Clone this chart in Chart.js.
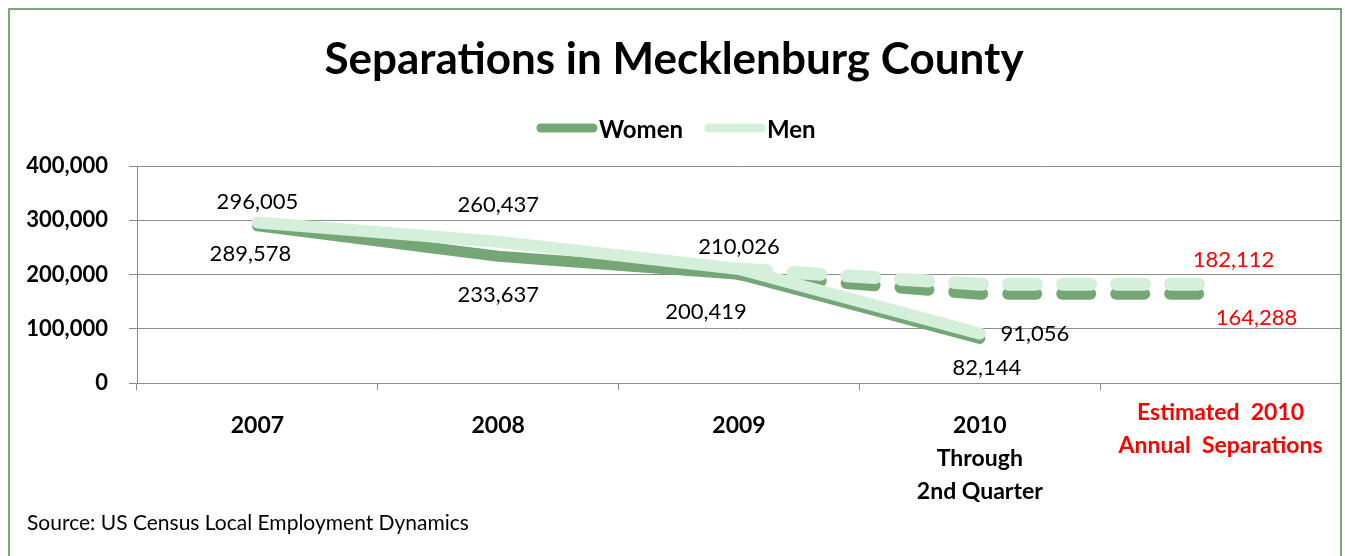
<!DOCTYPE html>
<html>
<head>
<meta charset="utf-8">
<script src="https://cdn.jsdelivr.net/npm/chart.js@4"></script>
<style>
  html, body { margin: 0; padding: 0; background: #fff; }
  #wrap { position: absolute; left: 0; top: 0; width: 1345px; height: 556px; }
</style>
</head>
<body>
<div id="wrap"><canvas id="sepChart" width="1345" height="556"></canvas></div>
<script>
// categories and series
const categories = [['2007'], ['2008'], ['2009'], ['2010', 'Through', '2nd Quarter'], ['Estimated  2010', 'Annual  Separations']];
const categoryColors = ['#000', '#000', '#000', '#000', '#ff0000'];
const women = [289578, 233637, 200419, 82144, null];
const men = [296005, 260437, 210026, 91056, null];
const womenEstimate = [null, null, 200419, 164288, 164288];
const menEstimate = [null, null, 210026, 182112, 182112];
const yTicks = [0, 100000, 200000, 300000, 400000];

const FONT = 'Lato, "Open Sans", sans-serif';
const WOMEN_COLOR = '#74a676';
const MEN_COLOR = '#d4f0da';

// where each value label sits relative to its point (style only)
const labelOffsets = {
  0: [[-7, 28], [0, 39], [-33, 38], [7, 29], null],
  1: [[0, -21], [0, -37], [0, -22], [55, 0], null],
  2: [null, null, null, null, [36, 24]],
  3: [null, null, null, null, [13, -24]]
};

const fmt = v => v.toLocaleString('en-US');

const overlay = {
  id: 'overlay',
  beforeDraw(chart) {
    const ctx = chart.ctx;
    ctx.save();
    // frame
    ctx.strokeStyle = '#79a979';
    ctx.lineWidth = 2;
    ctx.strokeRect(9, 9, 1332, 600);
    // title
    ctx.fillStyle = '#000';
    ctx.font = 'bold 44px ' + FONT;
    ctx.textAlign = 'center';
    ctx.textBaseline = 'middle';
    ctx.fillText('Separations in Mecklenburg County', 674, 60);
    // legend
    const items = [
      { text: 'Women', color: WOMEN_COLOR, x: 537 },
      { text: 'Men', color: MEN_COLOR, x: 705 }
    ];
    ctx.font = 'bold 24px ' + FONT;
    ctx.textAlign = 'left';
    ctx.lineCap = 'round';
    items.forEach(it => {
      ctx.strokeStyle = it.color;
      ctx.lineWidth = 9;
      ctx.beginPath();
      ctx.moveTo(it.x + 4, 128);
      ctx.lineTo(it.x + 56, 128);
      ctx.stroke();
      ctx.fillText(it.text, it.x + 62, 130);
    });
    // source
    ctx.font = '21px ' + FONT;
    ctx.fillText('Source: US Census Local Employment Dynamics', 27, 523);
    ctx.restore();
  },
  afterDatasetsDraw(chart) {
    const ctx = chart.ctx;
    const xs = chart.scales.x, ys = chart.scales.y;
    ctx.save();
    ctx.textAlign = 'center';
    ctx.textBaseline = 'middle';
    ctx.font = '22px ' + FONT;
    chart.data.datasets.forEach((ds, di) => {
      const offs = labelOffsets[di];
      ds.data.forEach((v, i) => {
        if (v == null || !offs || !offs[i]) return;
        const px = xs.getPixelForValue(i) + offs[i][0];
        const py = ys.getPixelForValue(v) + offs[i][1];
        ctx.fillStyle = i === 4 ? '#ff0000' : '#000';
        ctx.fillText(fmt(v), px, py);
      });
    });
    // category labels
    ctx.font = 'bold 23px ' + FONT;
    categories.forEach((lines, i) => {
      const px = xs.getPixelForValue(i);
      const top = lines.length === 2 ? 413 : 426;
      ctx.fillStyle = categoryColors[i];
      lines.forEach((ln, k) => ctx.fillText(ln, px, top + k * 33));
    });
    ctx.restore();
  }
};

const lineBase = { pointRadius: 0, pointHoverRadius: 0, borderCapStyle: 'round', borderJoinStyle: 'round', tension: 0, fill: false, spanGaps: false };

new Chart(document.getElementById('sepChart').getContext('2d'), {
  type: 'line',
  data: {
    labels: categories,
    datasets: [
      { ...lineBase, label: 'Women', data: women, borderColor: WOMEN_COLOR, borderWidth: 11, order: 2 },
      { ...lineBase, label: 'Men', data: men, borderColor: MEN_COLOR, borderWidth: 12, order: 1 },
      { ...lineBase, label: 'Women est.', data: womenEstimate, borderColor: WOMEN_COLOR, borderWidth: 12, borderDash: [28, 26], order: 4 },
      { ...lineBase, label: 'Men est.', data: menEstimate, borderColor: MEN_COLOR, borderWidth: 13, borderDash: [28, 26], order: 3 }
    ]
  },
  options: {
    responsive: false,
    animation: false,
    layout: { padding: { top: 166, left: 0, right: 4, bottom: 0 } },
    plugins: { legend: { display: false }, title: { display: false }, tooltip: { enabled: false } },
    scales: {
      x: {
        offset: true,
        ticks: { display: false },
        grid: { offset: true, drawOnChartArea: false, color: '#8c8c8c', tickLength: 7 },
        border: { color: '#8c8c8c', width: 1 },
        afterFit(scale) { scale.height = 173; }
      },
      y: {
        min: 0,
        max: 400000,
        afterBuildTicks(scale) { scale.ticks = yTicks.map(v => ({ value: v })); },
        ticks: {
          color: '#000',
          font: { family: FONT, size: 22, weight: 'bold' },
          padding: 21,
          callback: v => fmt(v)
        },
        grid: { color: '#8c8c8c', tickLength: 8 },
        border: { color: '#8c8c8c', width: 1 },
        afterFit(scale) { scale.width = 137; }
      }
    }
  },
  plugins: [overlay]
});
</script>
</body>
</html>
